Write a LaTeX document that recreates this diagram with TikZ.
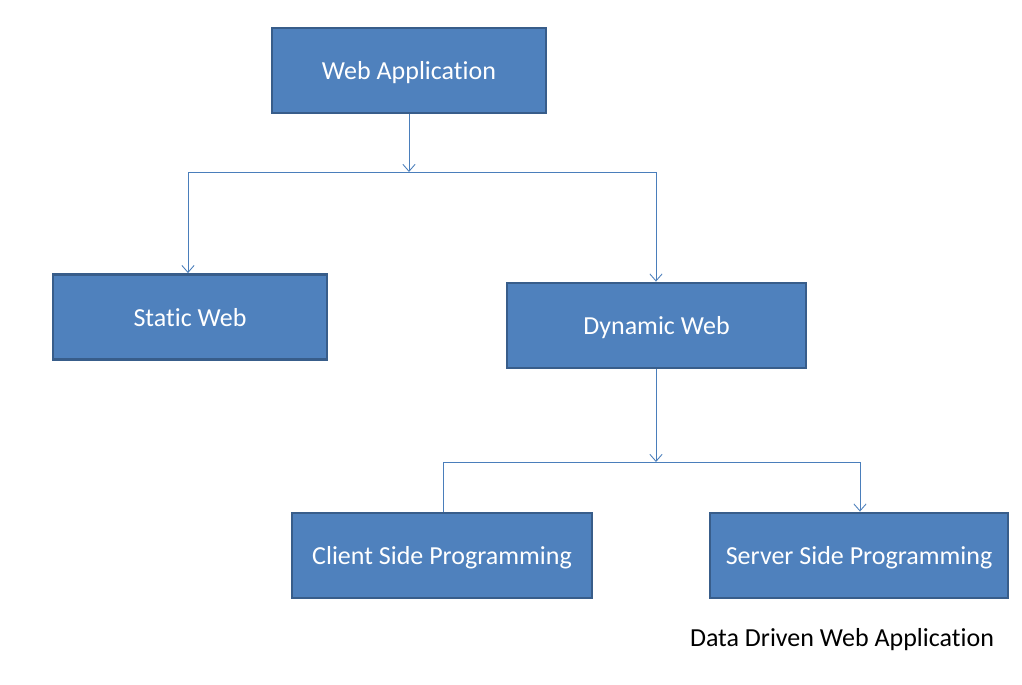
\documentclass[tikz,border=0pt]{standalone}
\usepackage{fontspec}
\setmainfont[Ligatures={NoCommon}]{Carlito}
\usetikzlibrary{positioning, calc, arrows.meta}
\definecolor{boxfill}{HTML}{4F81BD}
\definecolor{boxline}{HTML}{385D8A}
\definecolor{connline}{HTML}{4A7EBB}
\tikzset{
	block/.style={draw=boxline, fill=boxfill, line width=1.6pt, text=white, minimum height=85*0.02cm, inner sep=0pt, text depth=0pt, font=\fontsize{14.8}{17}\selectfont},
	conn/.style={draw=connline, line width=0.55pt},
	tip/.style={-{Straight Barb[length=4pt, width=7pt, line width=0.5pt]}}
}

\begin{document}
\begin{tikzpicture}[x=0.02cm, y=-0.02cm]
		\useasboundingbox (0,0) rectangle (1022,685);
		\node[block, minimum width=274*0.02cm] (webapp) at (409,70.5) {Web Application};
		\node[block, minimum width=274*0.02cm] (static) at (190,317) {Static Web};
		\node[block, minimum width=299*0.02cm] (dynamic) at (656.5,325.5) {Dynamic Web};
		\node[block, minimum width=300*0.02cm] (client) at (442,555.5) {Client Side Programming};
		\node[block, minimum width=298*0.02cm] (server) at (859,555.5) {Server Side Programming};
		\node[font=\fontsize{14.8}{17}\selectfont] (caption) at (842,640) {Data Driven Web Application};
		% branch points
		\coordinate (bar1) at (409,172);
		\coordinate (bar2) at (656,462);
		\draw[conn, tip] (webapp.south) -- (bar1);
		\draw[conn, tip] (bar1) -| ($(static.north)+(-2,0)$);
		\draw[conn, tip] (bar1) -| ($(dynamic.north)+(-0.5,0)$);
		\draw[conn, tip] ($(dynamic.south)+(-0.5,0)$) -- (bar2);
		\draw[conn] (bar2) -| ($(client.north)+(1,0)$);
		\draw[conn, tip] (bar2) -| ($(server.north)+(1,0)$);
	\end{tikzpicture}
\end{document}
